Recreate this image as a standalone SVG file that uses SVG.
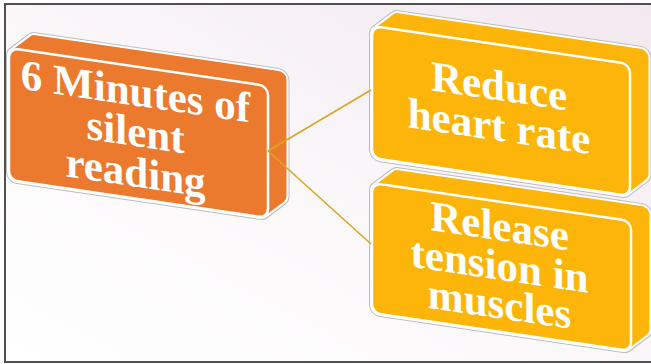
<svg xmlns="http://www.w3.org/2000/svg" width="651" height="364" viewBox="0 0 651 364">
<defs>
<linearGradient id="bg" x1="0" y1="1" x2="1" y2="0">
<stop offset="0" stop-color="#ffffff"/>
<stop offset="0.45" stop-color="#fbf8fa"/>
<stop offset="1" stop-color="#f2e8ef"/>
</linearGradient>
</defs>
<style>
.halo1{fill:none;stroke:#bdbdbd;stroke-width:22;stroke-linejoin:round}
.halo2{fill:none;stroke:#ffffff;stroke-width:20;stroke-linejoin:round}
.orange{fill:#EB7A2F;stroke:#EB7A2F;stroke-width:16;stroke-linejoin:round}
.gold{fill:#FDB50A;stroke:#FDB50A;stroke-width:16;stroke-linejoin:round}
.faceO{fill:#EB7A2F;stroke:#ffffff;stroke-width:2.5}
.faceG{fill:#FDB50A;stroke:#ffffff;stroke-width:2.5}
.lbl{font-family:"Liberation Serif","Times New Roman",serif;font-weight:bold;font-size:43px;fill:#ffffff;text-anchor:middle}
.conn{fill:none;stroke:#DDA521;stroke-width:1.6}
</style>
<rect x="0" y="0" width="651" height="364" fill="#ffffff"/>
<rect x="5" y="4" width="660" height="358" fill="url(#bg)" stroke="#505050" stroke-width="2"/>

<g id="node-release" transform="translate(501.5,267) skewY(8.37)">
<path class="halo1" d="M-121.5,-57 L-103,-73.7 L140,-73.7 L140,40.3 L121.5,57 L-121.5,57 Z"/>
<path class="halo2" d="M-121.5,-57 L-103,-73.7 L140,-73.7 L140,40.3 L121.5,57 L-121.5,57 Z"/>
<path class="gold" d="M-121.5,-57 L-103,-73.7 L140,-73.7 L140,40.3 L121.5,57 L-121.5,57 Z"/>
<rect class="faceG" x="-129.5" y="-65" width="259" height="130" rx="9"/>
<text class="lbl" x="-2" y="-26.5">Release</text>
<text class="lbl" x="-2" y="13">tension in</text>
<text class="lbl" x="-2" y="51.5">muscles</text>
</g>

<g id="node-reduce" transform="translate(501,111) skewY(8.37)">
<path class="halo1" d="M-121,-58 L-102.5,-74.7 L139.5,-74.7 L139.5,41.3 L121,58 L-121,58 Z"/>
<path class="halo2" d="M-121,-58 L-102.5,-74.7 L139.5,-74.7 L139.5,41.3 L121,58 L-121,58 Z"/>
<path class="gold" d="M-121,-58 L-102.5,-74.7 L139.5,-74.7 L139.5,41.3 L121,58 L-121,58 Z"/>
<rect class="faceG" x="-129" y="-66" width="258" height="132" rx="9"/>
<text class="lbl" x="-2" y="-10.5">Reduce</text>
<text class="lbl" x="-2" y="30">heart rate</text>
</g>

<g id="node-minutes" transform="translate(138.5,133) skewY(8.37)">
<path class="halo1" d="M-121.5,-58 L-103,-74.7 L140,-74.7 L140,41.3 L121.5,58 L-121.5,58 Z"/>
<path class="halo2" d="M-121.5,-58 L-103,-74.7 L140,-74.7 L140,41.3 L121.5,58 L-121.5,58 Z"/>
<path class="orange" d="M-121.5,-58 L-103,-74.7 L140,-74.7 L140,41.3 L121.5,58 L-121.5,58 Z"/>
<rect class="faceO" x="-129.5" y="-66" width="259" height="132" rx="9"/>
<text class="lbl" x="-3" y="-27">6 Minutes of</text>
<text class="lbl" x="-3" y="13.5">silent</text>
<text class="lbl" x="-3" y="54">reading</text>
</g>

<g id="connectors">
<line class="conn" x1="268" y1="151" x2="371" y2="90"/>
<line class="conn" x1="268" y1="151" x2="371" y2="244"/>
</g>
</svg>
